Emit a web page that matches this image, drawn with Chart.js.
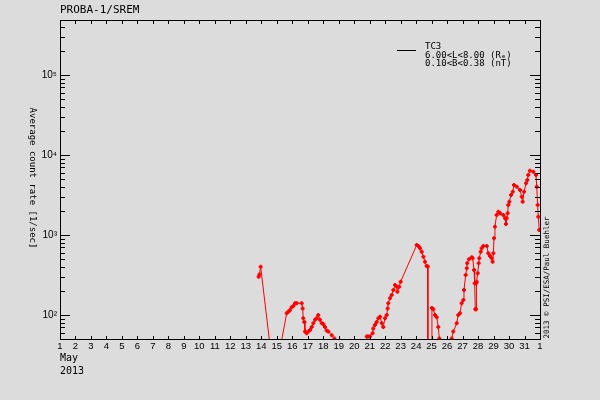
<!DOCTYPE html>
<html>
<head>
<meta charset="utf-8">
<script src="https://cdn.jsdelivr.net/npm/chart.js"></script>
<style>
html, body { margin: 0; padding: 0; background: #dcdcdc; }
</style>
</head>
<body>
<canvas id="srem" width="600" height="400"></canvas>
<script>
// day of May 2013 (32 = 1 June) and TC3 count rate [1/sec]
var days = [
	13.83, 13.88, 13.96, 14.68,
	15.07, 15.64, 15.74, 15.85, 15.96, 16.07, 16.18, 16.29, 16.61, 16.67, 16.71, 16.78, 16.82, 16.93,
	17.04, 17.15, 17.26, 17.36, 17.47, 17.58, 17.68, 17.79, 17.90, 18.00, 18.11, 18.22, 18.33, 18.55, 18.72, 19.80,
	20.70, 20.81, 20.90, 21.02, 21.19, 21.23, 21.34, 21.45, 21.56, 21.67, 21.78, 21.88, 21.99, 22.10, 22.16, 22.20,
	22.31, 22.42, 22.53, 22.64, 22.75, 22.79, 22.91, 23.00, 24.04, 24.14, 24.25, 24.36, 24.47, 24.57, 24.68, 24.75,
	24.76, 24.97, 25.02, 25.11, 25.22, 25.33, 25.43, 25.50, 25.62,
	25.96, 26.30, 26.40, 26.62, 26.72, 26.83, 26.94, 27.05, 27.09, 27.20, 27.27, 27.30, 27.41, 27.59, 27.65, 27.74,
	27.78, 27.82, 27.87, 27.88, 27.91, 27.98, 28.04, 28.08, 28.17, 28.23, 28.34, 28.56, 28.66, 28.77, 28.88, 28.94,
	28.99, 29.03, 29.09, 29.20, 29.31, 29.42, 29.63, 29.74, 29.80, 29.85, 29.91, 29.95, 30.02, 30.13, 30.24, 30.32,
	30.50, 30.71, 30.82, 30.88, 30.97, 31.10, 31.18, 31.24, 31.35, 31.57, 31.74, 31.79, 31.85, 31.89, 31.95
];
var rates = [
	300, 320, 400, 27,
	27, 105, 110, 115, 125, 130, 140, 140, 140, 121, 91, 82, 62, 59,
	62, 65, 71, 79, 87, 91, 100, 87, 79, 77, 71, 64, 62, 56, 51, 27,
	30, 54, 54, 54, 59, 68, 75, 82, 91, 95, 79, 71, 91, 100, 121, 140,
	162, 178, 205, 237, 226, 195, 226, 261, 750, 729, 682, 618, 535, 464, 410, 403,
	20, 20, 122, 118, 100, 94, 71, 51, 27,
	27, 51, 62, 79, 100, 105, 140, 154, 205, 316, 384, 443, 497, 526, 512, 365,
	249, 118, 118, 249, 261, 332, 443, 512, 618, 682, 729, 729, 590, 546, 512, 464,
	590, 910, 1270, 1778, 1955, 1866, 1778, 1618, 1372, 1618, 1866, 2371, 2608, 3162, 3478, 4217,
	4019, 3652, 3013, 2608, 3478, 4426, 4870, 5623, 6366, 6185, 5623, 4019, 2371, 1694, 1155
];

var xTickLabels = ['1', '2', '3', '4', '5', '6', '7', '8', '9', '10', '11', '12', '13', '14', '15', '16',
	'17', '18', '19', '20', '21', '22', '23', '24', '25', '26', '27', '28', '29', '30', '31', '1'];
var yTickValues = [100, 1000, 10000, 100000];
var yTickLabels = ['10²', '10³', '10⁴', '10⁵'];
var yMin = Math.pow(10, 1.6875);
var yMax = Math.pow(10, 5.6875);

var points = days.map(function(d, i) { return { x: d, y: rates[i] }; });

// frame, inside ticks and the free texts of the plot
var sremDecor = {
	id: 'sremDecor',
	beforeDraw: function(chart) {
		var ctx = chart.ctx;
		ctx.save();
		ctx.fillStyle = '#dcdcdc';
		ctx.fillRect(0, 0, chart.width, chart.height);
		ctx.restore();
	},
	afterDraw: function(chart) {
		var ctx = chart.ctx;
		var a = chart.chartArea;
		var x = chart.scales.x;
		var y = chart.scales.y;
		ctx.save();
		ctx.strokeStyle = '#000';
		ctx.lineWidth = 1;
		ctx.strokeRect(a.left + 0.5, a.top + 0.5, a.right - a.left, a.bottom - a.top - 1);
		ctx.beginPath();
		x.ticks.forEach(function(t) {
			var px = Math.round(x.getPixelForValue(t.value)) + 0.5;
			ctx.moveTo(px, a.bottom);
			ctx.lineTo(px, a.bottom - 4);
			ctx.moveTo(px, a.top);
			ctx.lineTo(px, a.top + 4);
		});
		for (var k = 1; k <= 6; k++) {
			for (var m = 1; m <= 9; m++) {
				var v = m * Math.pow(10, k);
				if (v < yMin || v > yMax) continue;
				var py = Math.round(y.getPixelForValue(v)) + 0.5;
				var len = m === 1 ? 10 : 5;
				ctx.moveTo(a.left, py);
				ctx.lineTo(a.left + len, py);
				ctx.moveTo(a.right, py);
				ctx.lineTo(a.right - len, py);
			}
		}
		// legend line
		ctx.moveTo(397, 50.5);
		ctx.lineTo(416, 50.5);
		ctx.stroke();

		ctx.fillStyle = '#000';
		ctx.textBaseline = 'middle';
		ctx.textAlign = 'left';
		ctx.font = '11px "DejaVu Sans Mono"';
		ctx.fillText('PROBA-1/SREM', 60, 10);
		ctx.font = '10px "DejaVu Sans Mono"';
		ctx.fillText('May', 60, 358.5);
		ctx.fillText('2013', 60, 371);
		ctx.font = '9px "DejaVu Sans Mono"';
		ctx.fillText('TC3', 425, 47);
		ctx.fillText('6.00<L<8.00 (Rₑ)', 425, 55.5);
		ctx.fillText('0.10<B<0.38 (nT)', 425, 64);

		ctx.save();
		ctx.translate(32, 178);
		ctx.rotate(Math.PI / 2);
		ctx.textAlign = 'center';
		ctx.font = '9px "DejaVu Sans Mono"';
		ctx.fillText('Average count rate [1/sec]', 0, 0);
		ctx.restore();

		ctx.save();
		ctx.translate(547.5, 277.5);
		ctx.rotate(-Math.PI / 2);
		ctx.textAlign = 'center';
		ctx.font = '7.5px "DejaVu Sans Mono"';
		ctx.fillText('2013 © PSI/ESA/Paul Buehler', 0, 0);
		ctx.restore();
		ctx.restore();
	}
};

const ctx = document.getElementById('srem').getContext('2d');
const myChart = new Chart(ctx, {
	type: 'line',
	data: {
		datasets: [{
			data: points,
			borderColor: '#ff0000',
			backgroundColor: '#ff0000',
			borderWidth: 1,
			pointStyle: 'cross',
			pointRadius: 2,
			pointBorderWidth: 2,
			pointHoverRadius: 2,
			tension: 0,
			fill: false
		}]
	},
	options: {
		responsive: false,
		animation: false,
		devicePixelRatio: 1,
		layout: { padding: { left: 0, right: 60, top: 20, bottom: 0 } },
		plugins: {
			legend: { display: false },
			tooltip: { enabled: false }
		},
		scales: {
			x: {
				type: 'linear',
				min: 1,
				max: 32,
				grid: { display: false, drawTicks: false },
				border: { display: false },
				afterBuildTicks: function(s) {
					s.ticks = xTickLabels.map(function(l, i) { return { value: i + 1 }; });
				},
				ticks: {
					autoSkip: false,
					maxRotation: 0,
					padding: 1,
					color: '#000',
					font: { family: 'Liberation Sans', size: 9.5 },
					callback: function(v, i) { return xTickLabels[i]; }
				},
				afterFit: function(s) {
					s.height = 60;
					s.paddingLeft = 0;
					s.paddingRight = 0;
				}
			},
			y: {
				type: 'logarithmic',
				min: yMin,
				max: yMax,
				grid: { display: false, drawTicks: false },
				border: { display: false },
				afterBuildTicks: function(s) {
					s.ticks = yTickValues.map(function(v) { return { value: v }; });
				},
				ticks: {
					padding: 3,
					color: '#000',
					font: { family: 'Liberation Sans', size: 10 },
					callback: function(v, i) { return yTickLabels[i]; }
				},
				afterFit: function(s) {
					s.width = 60;
					s.paddingTop = 0;
					s.paddingBottom = 0;
				}
			}
		}
	},
	plugins: [sremDecor]
});
</script>
</body>
</html>
